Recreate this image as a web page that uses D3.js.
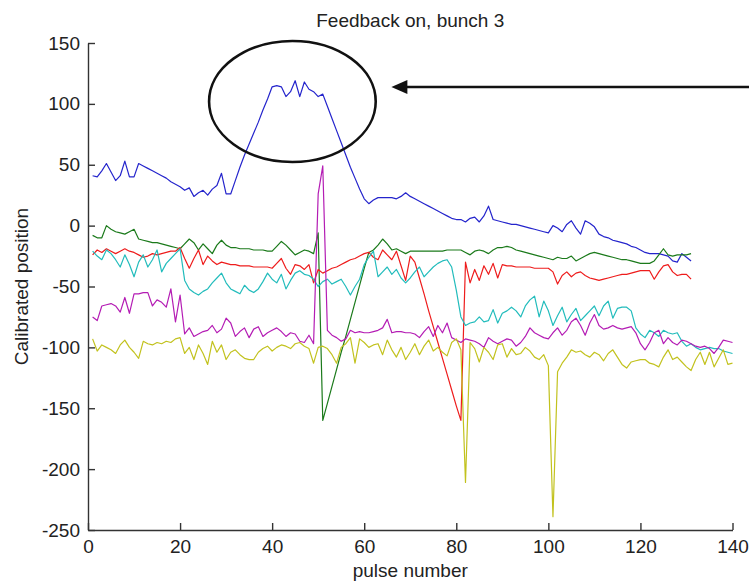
<!DOCTYPE html>
<html>
<head>
<meta charset="utf-8">
<script src="https://cdn.jsdelivr.net/npm/d3@7"></script>
<style>
  body { margin: 0; background: #fff; }
  text { font-family: "Liberation Sans", Arial, sans-serif; fill: #222; }
</style>
</head>
<body>
<div id="chart"></div>
<script>
// values, one entry per pulse (pulse 1, 2, ...)
var xTicks = [0, 20, 40, 60, 80, 100, 120, 140];
var yTicks = [-250, -200, -150, -100, -50, 0, 50, 100, 150];

var blue = [41,40,45,51,44,37,41,53,40,40,
  51,49,47,45,43,41,39,36,34,32,
  29,31,24,27,29,25,30,33,43,26,
  26,37,48,58,67,76,85,95,104,114,
  115,114,106,110,119,106,118,112,110,106,
  108,98,88,78,68,58,48,39,30,22,
  18,21,23,23,23,23,22,24,27,24,
  22,20,18,16,14,12,10,8,6,5,
  5,3,6,7,3,8,16,5,4,3,
  2,1,1,0,-1,-2,-3,-4,-5,-6,
  0,-2,-5,1,4,-2,-7,4,2,-1,
  -7,-9,-10,-12,-13,-14,-15,-17,-18,-20,
  -22,-23,-23,-23,-24,-25,-29,-30,-23,-26,
  -29];

var green = [-8,-10,-10,0,-3,-5,-6,-7,-5,-3,
  -11,-12,-13,-14,-14,-15,-16,-17,-18,-19,
  -15,-11,-14,-20,-15,-19,-23,-16,-12,-16,
  -18,-18,-19,-19,-19,-20,-20,-20,-21,-21,
  -17,-13,-16,-20,-24,-22,-20,-21,-23,-6,
  -160,-146,-132,-118,-104,-91,-77,-63,-49,-35,
  -22,-20,-16,-11,-15,-20,-19,-21,-23,-21,
  -21,-21,-21,-21,-21,-21,-21,-20,-20,-20,
  -20,-22,-24,-21,-20,-21,-23,-20,-18,-18,
  -17,-18,-20,-21,-22,-23,-24,-25,-26,-27,
  -28,-26,-27,-27,-25,-29,-27,-25,-23,-22,
  -23,-24,-25,-26,-27,-28,-28,-29,-30,-31,
  -31,-31,-29,-24,-19,-24,-25,-24,-24,-24,
  -23];

var red = [-24,-20,-22,-19,-21,-23,-21,-19,-21,-22,
  -24,-26,-25,-23,-24,-23,-22,-21,-21,-18,
  -27,-35,-27,-20,-32,-25,-29,-32,-30,-31,
  -32,-32,-33,-33,-33,-34,-34,-34,-34,-35,
  -31,-27,-35,-40,-32,-33,-36,-32,-47,-36,
  -39,-37,-35,-34,-32,-30,-28,-27,-25,-23,
  -22,-26,-28,-20,-24,-28,-21,-33,-45,-25,
  -30,-43,-56,-70,-83,-96,-109,-122,-135,-148,
  -160,-30,-47,-36,-45,-33,-40,-31,-43,-32,
  -33,-33,-34,-34,-34,-34,-35,-35,-35,-35,
  -38,-48,-41,-38,-42,-39,-38,-41,-43,-44,
  -45,-44,-43,-42,-41,-40,-40,-39,-38,-37,
  -37,-37,-44,-38,-33,-32,-38,-41,-40,-40,
  -44];

var cyan = [-21,-25,-28,-20,-23,-28,-34,-24,-32,-42,
  -30,-24,-34,-28,-20,-38,-31,-27,-23,-19,
  -45,-52,-55,-57,-54,-52,-47,-43,-39,-47,
  -52,-54,-56,-49,-53,-55,-52,-46,-39,-44,
  -47,-40,-52,-45,-39,-37,-40,-41,-44,-50,
  -46,-44,-48,-46,-44,-50,-57,-50,-44,-32,
  -26,-21,-42,-38,-34,-40,-36,-43,-47,-43,
  -38,-34,-42,-38,-34,-31,-29,-28,-34,-53,
  -75,-82,-80,-79,-75,-79,-78,-69,-80,-72,
  -70,-67,-70,-75,-66,-61,-58,-75,-62,-70,
  -82,-74,-67,-79,-73,-68,-78,-74,-70,-66,
  -74,-66,-62,-76,-68,-67,-67,-70,-84,-89,
  -92,-86,-88,-91,-86,-88,-89,-88,-95,-99,
  -97,-100,-102,-101,-100,-101,-101,-103,-104,-105];

var magenta = [-75,-78,-66,-65,-64,-66,-71,-59,-72,-56,
  -56,-55,-55,-66,-61,-63,-67,-52,-79,-57,
  -89,-84,-91,-89,-87,-86,-82,-88,-85,-76,
  -80,-91,-87,-84,-92,-85,-83,-91,-88,-86,
  -84,-87,-91,-88,-89,-95,-96,-90,-97,26,
  49,-86,-90,-92,-95,-93,-86,-88,-87,-88,
  -88,-87,-86,-84,-77,-88,-87,-87,-88,-88,
  -89,-92,-87,-83,-91,-82,-88,-80,-92,-94,
  -96,-93,-94,-95,-97,-100,-92,-95,-97,-95,
  -93,-94,-99,-96,-91,-84,-88,-90,-92,-93,
  -88,-84,-90,-86,-79,-76,-82,-90,-80,-73,
  -82,-85,-84,-82,-84,-85,-84,-83,-88,-97,
  -102,-96,-88,-86,-97,-92,-96,-98,-94,-95,
  -97,-99,-100,-99,-101,-105,-100,-94,-95,-96];

var yellow = [-93,-103,-98,-100,-102,-105,-98,-94,-100,-104,
  -109,-95,-97,-98,-96,-97,-95,-96,-93,-92,
  -105,-100,-110,-98,-105,-114,-95,-104,-98,-110,
  -104,-102,-106,-109,-110,-110,-104,-101,-99,-103,
  -100,-98,-99,-101,-97,-96,-99,-101,-113,-100,
  -99,-101,-106,-113,-100,-97,-92,-113,-93,-96,
  -100,-98,-97,-106,-94,-102,-108,-100,-110,-104,
  -97,-106,-99,-94,-103,-100,-104,-107,-96,-93,
  -102,-211,-96,-101,-112,-100,-104,-110,-98,-97,
  -108,-101,-106,-105,-100,-103,-108,-110,-106,-115,
  -239,-120,-113,-108,-102,-104,-103,-106,-108,-104,
  -106,-111,-105,-102,-108,-114,-117,-112,-111,-110,
  -110,-113,-114,-116,-108,-102,-110,-108,-112,-116,
  -119,-110,-104,-114,-104,-116,-109,-102,-114,-113];

// MATLAB default line order, drawn in this order
var series = [
  { name: 'b', values: blue,    color: '#2424cc' },
  { name: 'g', values: green,   color: '#1b7a1b' },
  { name: 'r', values: red,     color: '#ee1c1c' },
  { name: 'c', values: cyan,    color: '#22bcbc' },
  { name: 'm', values: magenta, color: '#b41cb4' },
  { name: 'y', values: yellow,  color: '#c2c21e' }
];

// hand-drawn highlight, in data units
var circleNote = { x: 44.4, y: 102, rx: 18.1, ry: 49.7 };
var arrowNote = { x1: 144, x2: 65.9, y: 113.8 };

var width = 749, height = 586;
var marginLeft = 88, marginRight = 16.5, marginTop = 43, marginBottom = 56;

var svg = d3.select('#chart')
  .append('svg')
  .attr('width', width)
  .attr('height', height)
  .style('background-color', 'white');

var x = d3.scaleLinear()
  .domain([0, 140])
  .range([marginLeft, width - marginRight]);

var y = d3.scaleLinear()
  .domain([-250, 150])
  .range([height - marginBottom, marginTop]);

// plain hyphen for negatives, like MATLAB
var fmt = function(d) { return String(d); };

// X axis (ticks point inward)
var gx = svg.append('g')
  .attr('transform', 'translate(0,' + y(-250) + ')')
  .call(d3.axisBottom(x).tickValues(xTicks).tickFormat(fmt).tickSize(-7).tickPadding(13).tickSizeOuter(0));

// Y axis
var gy = svg.append('g')
  .attr('transform', 'translate(' + x(0) + ',0)')
  .call(d3.axisLeft(y).tickValues(yTicks).tickFormat(fmt).tickSize(-7).tickPadding(8).tickSizeOuter(0));

[gx, gy].forEach(function(g) {
  g.select('.domain').attr('stroke', '#333').attr('stroke-width', 1.4);
  g.selectAll('.tick line').attr('stroke', '#333').attr('stroke-width', 1.4);
  g.selectAll('.tick text')
    .style('font-family', '"Liberation Sans", Arial, sans-serif')
    .style('font-size', '19px')
    .attr('fill', '#222');
});
gx.selectAll('.tick text').attr('dy', '0.55em');

// lines
var line = d3.line()
  .x(function(d, i) { return x(i + 1); })
  .y(function(d) { return y(d); });

series.forEach(function(s) {
  svg.append('path')
    .datum(s.values)
    .attr('fill', 'none')
    .attr('stroke', s.color)
    .attr('stroke-width', 1.2)
    .attr('stroke-linejoin', 'round')
    .attr('d', line);
});

// title
svg.append('text')
  .attr('x', x(70))
  .attr('y', 27)
  .style('text-anchor', 'middle')
  .style('font-size', '19px')
  .text('Feedback on, bunch 3');

// x label
svg.append('text')
  .attr('x', x(70))
  .attr('y', 577)
  .style('text-anchor', 'middle')
  .style('font-size', '19px')
  .text('pulse number');

// y label
svg.append('text')
  .attr('transform', 'rotate(-90)')
  .attr('x', -(y(-250) + y(150)) / 2)
  .attr('y', 28)
  .style('text-anchor', 'middle')
  .style('font-size', '19px')
  .text('Calibrated position');

// annotation: ellipse + arrow
var kx = x(1) - x(0), ky = y(0) - y(1);
svg.append('ellipse')
  .attr('cx', x(circleNote.x))
  .attr('cy', y(circleNote.y))
  .attr('rx', circleNote.rx * kx)
  .attr('ry', circleNote.ry * ky)
  .attr('fill', 'none')
  .attr('stroke', '#111')
  .attr('stroke-width', 2.6);

var ax2 = x(arrowNote.x2), ay = y(arrowNote.y);
svg.append('line')
  .attr('x1', x(arrowNote.x1))
  .attr('x2', ax2 + 12)
  .attr('y1', ay)
  .attr('y2', ay)
  .attr('stroke', '#111')
  .attr('stroke-width', 2.6);

svg.append('path')
  .attr('d', 'M' + ax2 + ',' + ay + 'L' + (ax2 + 16) + ',' + (ay - 7) + 'L' + (ax2 + 16) + ',' + (ay + 7) + 'Z')
  .attr('fill', '#111');
</script>
</body>
</html>
